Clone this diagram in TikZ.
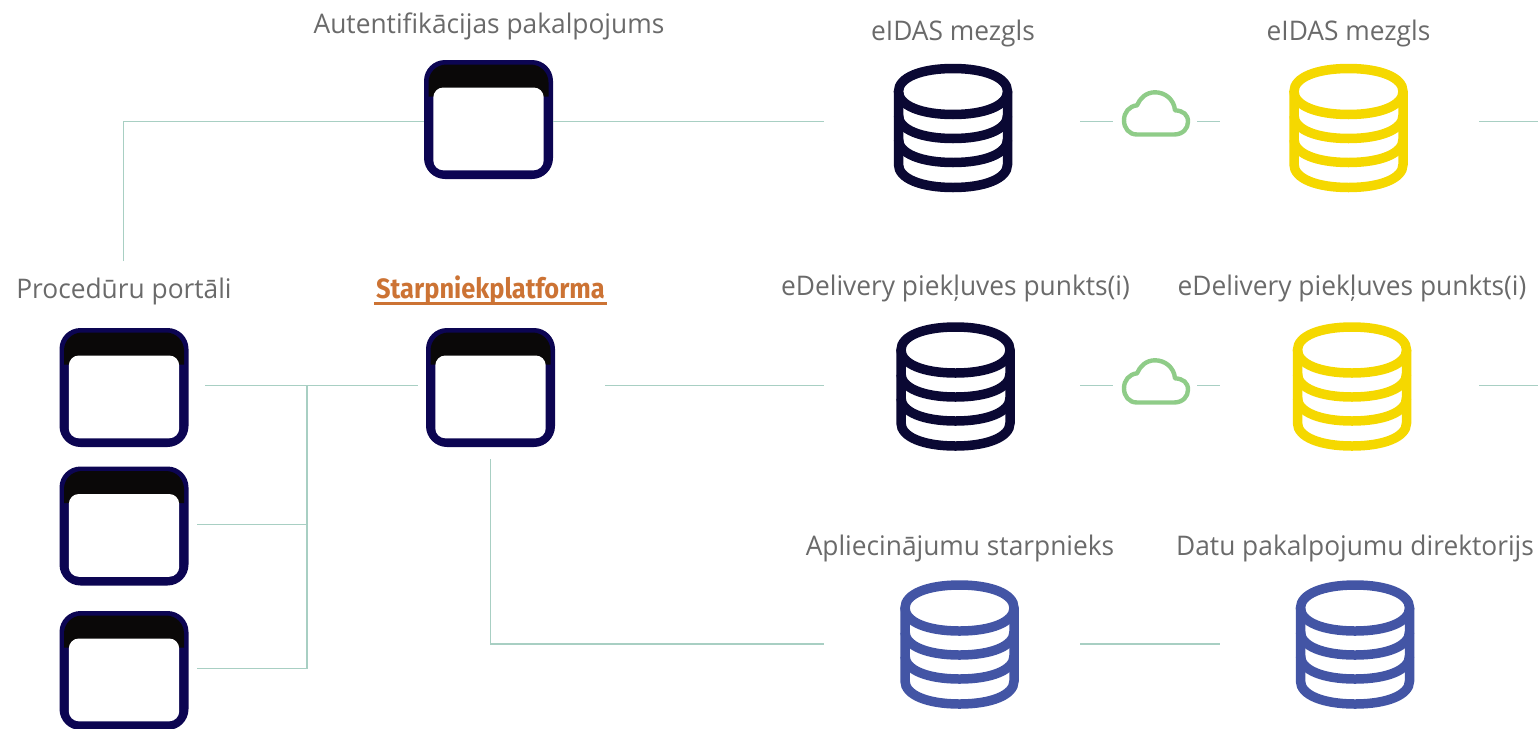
\documentclass[tikz,border=0pt]{standalone}
\usepackage{fontspec}
\setmainfont{Open Sans}
\newfontfamily\labelfont[FakeStretch=0.975]{Open Sans}
\newfontfamily\starpfont[FakeStretch=0.907]{Fira Sans}
\definecolor{navy}{HTML}{0C0552}
\definecolor{hdr}{HTML}{0A0808}
\definecolor{dbnavy}{HTML}{0A0833}
\definecolor{dbyellow}{HTML}{F5D800}
\definecolor{dbblue}{HTML}{4355A5}
\definecolor{cloudg}{HTML}{8FCC88}
\definecolor{linec}{HTML}{A8CFC3}
\definecolor{labelc}{HTML}{6A6A6A}
\definecolor{orangec}{HTML}{CC7334}
\tikzset{
  conn/.style={draw=linec,line width=1.4pt},
  lbl/.style={anchor=base,inner sep=0pt,text=labelc,font=\labelfont\fontsize{27}{30}\selectfont},
  iconbox/.style={inner sep=0pt,minimum width=129pt,minimum height=119pt},
  dbbox/.style={inner sep=0pt,minimum width=119pt,minimum height=128pt},
  cloudbox/.style={inner sep=0pt,minimum width=70pt,minimum height=47pt},
}
\newcommand{\winicon}[3]{%
  \node[iconbox] (#1) at (#2,#3) {};
  \begin{scope}[shift={(#2,#3)}]
    \fill[navy,rounded corners=21pt] (-64.5,-59.5) rectangle (64.5,59.5);
    \fill[hdr] (-60,-23) -- (-60,-33) [rounded corners=18pt] -- (-60,-55) -- (60,-55) [sharp corners] -- (60,-23) -- cycle;
    \fill[white,rounded corners=10pt] (-55.2,-32) rectangle (55.2,50.8);
  \end{scope}}
\newcommand{\dbarc}[1]{(-54.5,#1) .. controls (-54.5,#1+14) and (-32,#1+23) .. (0,#1+23) .. controls (32,#1+23) and (54.5,#1+14) .. (54.5,#1)}
\newcommand{\dbicon}[4]{%
  \node[dbbox] (#1) at (#2,#3) {};
  \begin{scope}[shift={(#2,#3)},draw=#4,line width=9.5pt]
    \draw \dbarc{-36.5} .. controls (54.5,-50.5) and (32,-59.5) .. (0,-59.5) .. controls (-32,-59.5) and (-54.5,-50.5) .. (-54.5,-36.5) -- cycle;
    \draw \dbarc{-12.5};
    \draw \dbarc{11.5};
    \draw (-54.5,-36.5) -- \dbarc{36.5} -- (54.5,-36.5);
  \end{scope}}
\newcommand{\cloudicon}[3]{%
  \node[cloudbox] (#1) at (#2,#3) {};
  \begin{scope}[shift={(#2,#3)}]
    \draw[cloudg,line width=4.4pt,line join=round]
      (-19,21.2) -- (18,21.2)
      .. controls (27,21.2) and (32,15) .. (32,8.5)
      .. controls (32,1) and (27,-2.5) .. (19,-3)
      .. controls (18,-14) and (9,-21) .. (-1,-21)
      .. controls (-10,-21) and (-16,-15) .. (-19,-8)
      .. controls (-27,-7) and (-32,-1) .. (-32,7)
      .. controls (-32,15) and (-27,21.2) .. (-19,21.2) -- cycle;
  \end{scope}}
\begin{document}
\begin{tikzpicture}[x=1pt,y=-1pt]
\useasboundingbox (0,0) rectangle (1538,728);
% icons
\winicon{auth}{488.5}{119.5}
\winicon{portalA}{124}{387.5}
\winicon{portalB}{124}{526}
\winicon{portalC}{124}{670.5}
\winicon{broker}{490.5}{387.5}
\dbicon{eidasA}{953}{128}{dbnavy}
\dbicon{eidasB}{1348.5}{128}{dbyellow}
\dbicon{edelA}{955.5}{386.5}{dbnavy}
\dbicon{edelB}{1352}{386.5}{dbyellow}
\dbicon{certs}{959.5}{644.5}{dbblue}
\dbicon{direct}{1355}{644.5}{dbblue}
\cloudicon{cloudA}{1156}{113.3}
\cloudicon{cloudB}{1156}{381.3}
% labels
\node[lbl] (lauth) at (489,33) {Autentifikācijas pakalpojums};
\node[lbl] (leidA) at (953,40) {eIDAS mezgls};
\node[lbl] (leidB) at (1348.5,40) {eIDAS mezgls};
\node[lbl] (lport) at (124,298) {Procedūru portāli};
\node[anchor=base,inner sep=0pt,text=orangec,font=\starpfont\bfseries\fontsize{28}{30}\selectfont] (lstarp) at (490.5,298) {Starpniekplatforma};
\draw[orangec,line width=2.5pt] ([xshift=-2pt,yshift=-5.5pt]lstarp.base west) -- ([xshift=2pt,yshift=-5.5pt]lstarp.base east);
\node[lbl] (ledA) at (955.5,295) {eDelivery piekļuves punkts(i)};
\node[lbl] (ledB) at (1352,295) {eDelivery piekļuves punkts(i)};
\node[lbl] (lcert) at (960,555) {Apliecinājumu starpnieks};
\node[lbl] (ldir) at (1355,555) {Datu pakalpojumu direktorijs};
% free ends and junctions
\coordinate (authcorner) at (123.5,121.5);
\coordinate (portaltop) at (123.5,261);
\coordinate (juncT) at (307,385.7);
\coordinate (juncM) at (307,524.5);
\coordinate (juncB) at (307,668.5);
\coordinate (pAend) at (205,385.7);
\coordinate (pBend) at (197,524.5);
\coordinate (pCend) at (197,668.5);
\coordinate (brW) at (418,385.7);
\coordinate (brE) at (605,385.7);
\coordinate (brS) at (490.7,459);
\coordinate (brCorner) at (490.7,644);
\coordinate (eidasW) at (824,121.5);
\coordinate (edelW) at (824,385.7);
\coordinate (certW) at (824,644);
\coordinate (certE) at (1080,644);
\coordinate (dirW) at (1220,644);
\coordinate (eidasAE) at (1080,121.5);
\coordinate (cloudAW) at (1113,121.5);
\coordinate (cloudAE) at (1197,121.5);
\coordinate (eidasBW) at (1220,121.5);
\coordinate (eidasBE) at (1479,121.5);
\coordinate (eidasOut) at (1538,121.5);
\coordinate (edelAE) at (1080,385.7);
\coordinate (cloudBW) at (1113,385.7);
\coordinate (cloudBE) at (1197,385.7);
\coordinate (edelBW) at (1220,385.7);
\coordinate (edelBE) at (1479,385.7);
\coordinate (edelOut) at (1538,385.7);
% connectors
\draw[conn] (portaltop) -- (authcorner) -- (auth.west |- authcorner);
\draw[conn] (auth.east |- authcorner) -- (eidasW);
\draw[conn] (eidasAE) -- (cloudAW);
\draw[conn] (cloudAE) -- (eidasBW);
\draw[conn] (eidasBE) -- (eidasOut);
\draw[conn] (pAend) -- (brW);
\draw[conn] (brE) -- (edelW);
\draw[conn] (edelAE) -- (cloudBW);
\draw[conn] (cloudBE) -- (edelBW);
\draw[conn] (edelBE) -- (edelOut);
\draw[conn] (juncT) -- (juncB) -- (pCend);
\draw[conn] (pBend) -- (juncM);
\draw[conn] (brS) -- (brCorner) -- (certW);
\draw[conn] (certE) -- (dirW);
\end{tikzpicture}
\end{document}
